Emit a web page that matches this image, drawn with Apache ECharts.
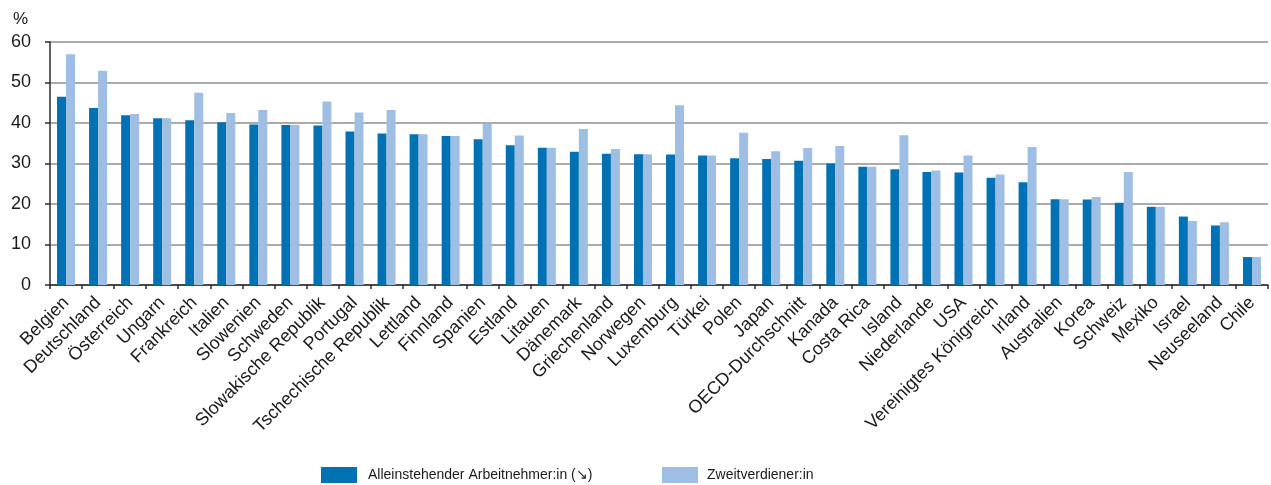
<!DOCTYPE html>
<html>
<head>
<meta charset="utf-8">
<title>Steuer- und Abgabenlast</title>
<script src="https://cdn.jsdelivr.net/npm/echarts@6/dist/echarts.min.js"></script>
<style>
  html, body { margin: 0; padding: 0; background: #ffffff; }
  #chart { width: 1271px; height: 485px; }
</style>
</head>
<body>
<div id="chart"></div>
<script>
// Länder, sortiert nach der Belastung Alleinstehender
const categories = [
  'Belgien', 'Deutschland', 'Österreich', 'Ungarn', 'Frankreich', 'Italien',
  'Slowenien', 'Schweden', 'Slowakische Republik', 'Portugal',
  'Tschechische Republik', 'Lettland', 'Finnland', 'Spanien', 'Estland',
  'Litauen', 'Dänemark', 'Griechenland', 'Norwegen', 'Luxemburg', 'Türkei',
  'Polen', 'Japan', 'OECD-Durchschnitt', 'Kanada', 'Costa Rica', 'Island',
  'Niederlande', 'USA', 'Vereinigtes Königreich', 'Irland', 'Australien',
  'Korea', 'Schweiz', 'Mexiko', 'Israel', 'Neuseeland', 'Chile'
];

// Alleinstehender Arbeitnehmer:in (%)
const singleWorker = [
  46.5, 43.7, 41.9, 41.2, 40.7, 40.2, 39.6, 39.5, 39.4, 37.9,
  37.4, 37.2, 36.8, 36.0, 34.5, 33.9, 32.9, 32.4, 32.3, 32.2,
  32.0, 31.3, 31.1, 30.7, 30.0, 29.2, 28.6, 27.9, 27.8, 26.5,
  25.4, 21.2, 21.1, 20.3, 19.3, 16.9, 14.7, 6.9
];

// Zweitverdiener:in (%)
const secondEarner = [
  57.0, 52.9, 42.2, 41.2, 47.5, 42.5, 43.2, 39.5, 45.3, 42.6,
  43.2, 37.2, 36.8, 39.8, 36.9, 33.9, 38.5, 33.6, 32.3, 44.4,
  32.0, 37.6, 33.0, 33.8, 34.3, 29.2, 37.0, 28.3, 32.0, 27.3,
  34.1, 21.2, 21.7, 27.9, 19.3, 15.8, 15.5, 6.9
];

// Beschriftung der y-Achse
const yTicks = [0, 10, 20, 30, 40, 50, 60];

const seriesNames = ['Alleinstehender Arbeitnehmer:in (↘)', 'Zweitverdiener:in'];
const colors = ['#0071b3', '#9fbee3'];
const fontFamily = '"Liberation Sans", Arial, Helvetica, sans-serif';

const chart = echarts.init(document.getElementById('chart'), null, { renderer: 'canvas' });

chart.setOption({
  animation: false,
  backgroundColor: '#ffffff',
  textStyle: { fontFamily: fontFamily, color: '#1a1a1a' },
  grid: { left: 50, right: 3, top: 42, bottom: 200, containLabel: false },
  legend: [
    {
      data: [seriesNames[0]],
      left: 321, top: 467,
      padding: 0,
      itemWidth: 36, itemHeight: 16,
      itemGap: 0,
      icon: 'rect',
      textStyle: { fontSize: 14, color: '#1a1a1a', fontFamily: fontFamily, padding: [0, 0, 0, 6] }
    },
    {
      data: [seriesNames[1]],
      left: 662, top: 467,
      padding: 0,
      itemWidth: 36, itemHeight: 16,
      itemGap: 0,
      icon: 'rect',
      textStyle: { fontSize: 14, color: '#1a1a1a', fontFamily: fontFamily, padding: [0, 0, 0, 4] }
    }
  ],
  xAxis: {
    type: 'category',
    data: categories,
    boundaryGap: true,
    axisLine: { show: true, lineStyle: { color: '#2b2b2b', width: 1.5 } },
    axisTick: { show: true, length: 4, alignWithLabel: false, lineStyle: { color: '#2b2b2b', width: 1.5 } },
    axisLabel: {
      interval: 0,
      rotate: 45,
      margin: 15,
      fontSize: 18,
      color: '#1a1a1a',
      fontFamily: fontFamily
    },
    splitLine: { show: false }
  },
  yAxis: {
    type: 'value',
    min: yTicks[0],
    max: yTicks[yTicks.length - 1],
    interval: 10,
    name: '%',
    nameLocation: 'end',
    nameGap: 14,
    nameTextStyle: { fontSize: 17, color: '#1a1a1a', align: 'right', padding: [0, 22, 0, 0], fontFamily: fontFamily },
    axisLine: { show: true, lineStyle: { color: '#2b2b2b', width: 1.5 } },
    axisTick: { show: true, length: 5, lineStyle: { color: '#2b2b2b', width: 1.5 } },
    axisLabel: {
      margin: 19,
      fontSize: 18,
      color: '#1a1a1a',
      fontFamily: fontFamily,
      formatter: function (v) { return yTicks.indexOf(v) >= 0 ? String(v) : ''; }
    },
    splitLine: { show: true, lineStyle: { color: '#8f8f8f', width: 1.5 } }
  },
  series: [
    {
      name: seriesNames[0],
      type: 'bar',
      data: singleWorker,
      barWidth: 9,
      barGap: '0%',
      itemStyle: { color: colors[0] }
    },
    {
      name: seriesNames[1],
      type: 'bar',
      data: secondEarner,
      barWidth: 9,
      barGap: '0%',
      itemStyle: { color: colors[1] }
    }
  ]
});
</script>
</body>
</html>
